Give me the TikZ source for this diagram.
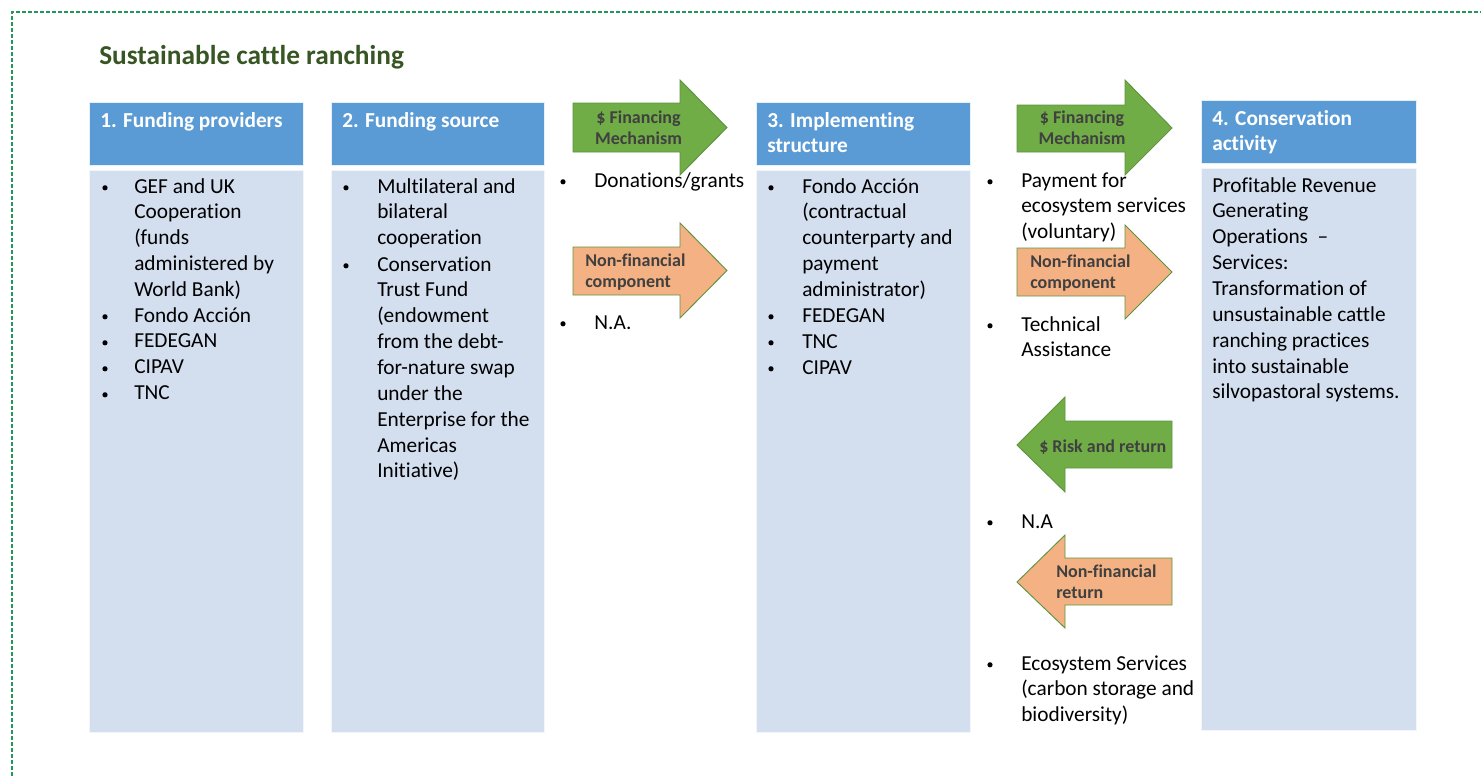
\documentclass[tikz,border=0pt]{standalone}
\usepackage{fontspec}
\setmainfont{Carlito}[Ligatures=NoCommon]

\definecolor{headblue}{HTML}{5B9BD5}
\definecolor{bodyblue}{HTML}{D3DEEF}
\definecolor{titlegreen}{HTML}{375623}
\definecolor{arrowgreen}{HTML}{70AD47}
\definecolor{arroworange}{HTML}{F4B183}
\definecolor{arrowline}{HTML}{5E9440}
\definecolor{framegreen}{HTML}{1F9A5A}
\definecolor{arrowtext}{HTML}{404040}

\newcommand{\leftlines}[1]{\begin{tabular}[t]{@{}l@{}}#1\end{tabular}}
\newcommand{\midlines}[1]{\begin{tabular}[t]{@{}c@{}}#1\end{tabular}}

\tikzset{
  headbox/.style={fill=headblue,draw=white!85!headblue,line width=0.6pt},
  bodybox/.style={fill=bodyblue,draw=white!70!bodyblue,line width=0.6pt},
  plaintext/.style={font=\fontsize{16}{19.4}\selectfont,inner sep=0,anchor=base west},
  headtext/.style={plaintext,text=white,font=\fontsize{16}{19.4}\selectfont\bfseries},
  dot/.style={circle,fill=black,inner sep=0,minimum size=3.9pt,yshift=3.9pt},
  arrowlabel/.style={font=\fontsize{13.5}{15.75}\selectfont\bfseries,text=arrowtext,inner sep=0,anchor=base west},
  finarrow/.style={fill=arrowgreen,draw=arrowline,line width=0.7pt},
  nonfinarrow/.style={fill=arroworange,draw=arrowline,line width=0.7pt}
}

\begin{document}
\begin{tikzpicture}[x=0.75pt,y=-0.75pt]
  \useasboundingbox (0,0) rectangle (1481,776);
  \draw[framegreen,line width=0.8pt,dash pattern=on 3pt off 1.5pt] (12,776) -- (12,12) -- (1481,12);

  \node[plaintext,text=titlegreen,font=\fontsize{20.5}{24}\selectfont\bfseries] (title) at (99,64) {Sustainable cattle ranching};

  % column boxes
  \draw[headbox] (89,102) rectangle (303,165);
  \draw[bodybox] (89,170) rectangle (303,732);
  \draw[headbox] (331,102) rectangle (544,165);
  \draw[bodybox] (331,170) rectangle (544,732);
  \draw[headbox] (756,102) rectangle (970,165);
  \draw[bodybox] (756,170) rectangle (970,732);
  \draw[headbox] (1201,100) rectangle (1416,163);
  \draw[bodybox] (1201,168) rectangle (1416,730);

  % headers
  \node[headtext] (providers head) at (100,127) {\leftlines{1. Funding providers}};
  \node[headtext] (source head) at (342,127) {\leftlines{2. Funding source}};
  \node[headtext] (structure head) at (767,127) {\leftlines{3. Implementing\\structure}};
  \node[headtext] (activity head) at (1212,125) {\leftlines{4. Conservation\\activity}};

  % 1. funding providers
  \node[dot] (providers dot 1) at (105,193) {};
  \node[plaintext] (providers item 1) at (134,193) {\leftlines{GEF and UK\\Cooperation\\(funds\\administered by\\World Bank)}};
  \node[dot] (providers dot 2) at (105,322) {};
  \node[plaintext] (providers item 2) at (134,322) {\leftlines{Fondo Acción\\FEDEGAN\\CIPAV\\TNC}};
  \node[dot] (providers dot 3) at (105,348) {};
  \node[dot] (providers dot 4) at (105,374) {};
  \node[dot] (providers dot 5) at (105,400) {};

  % 2. funding source
  \node[dot] (source dot 1) at (346,193) {};
  \node[plaintext] (source item 1) at (377,193) {\leftlines{Multilateral and\\bilateral\\cooperation}};
  \node[dot] (source dot 2) at (346,271) {};
  \node[plaintext] (source item 2) at (377,271) {\leftlines{Conservation\\Trust Fund\\(endowment\\from the debt-\\for-nature swap\\under the\\Enterprise for the\\Americas\\Initiative)}};

  % 3. implementing structure
  \node[dot] (structure dot 1) at (771,193) {};
  \node[plaintext] (structure item 1) at (802,193) {\leftlines{Fondo Acción\\(contractual\\counterparty and\\payment\\administrator)\\FEDEGAN\\TNC\\CIPAV}};
  \node[dot] (structure dot 2) at (771,322) {};
  \node[dot] (structure dot 3) at (771,348) {};
  \node[dot] (structure dot 4) at (771,374) {};

  % 4. conservation activity
  \node[plaintext] (activity text) at (1212,192) {\leftlines{Profitable Revenue\\Generating\\Operations~~--\\Services:\\Transformation of\\unsustainable cattle\\ranching practices\\into sustainable\\silvopastoral systems.}};

  % arrows between 2 and 3
  \draw[finarrow] (573,103) -- (680,103) -- (680,80) -- (727,127.5) -- (680,175) -- (680,152) -- (573,152) -- cycle;
  \node[arrowlabel,anchor=base] (fin label 1) at (638.5,123) {\midlines{\$ Financing\\Mechanism}};
  \node[dot] (grants dot) at (563,187) {};
  \node[plaintext] (grants) at (594,187) {Donations/grants};
  \draw[nonfinarrow] (573,247) -- (680,247) -- (680,223) -- (727,270.5) -- (680,318) -- (680,295) -- (573,295) -- cycle;
  \node[arrowlabel] (nonfin label 1) at (585,266) {\leftlines{Non-financial\\component}};
  \node[dot] (na dot 1) at (563,329) {};
  \node[plaintext] (na 1) at (594,329) {N.A.};

  % arrows between 3 and 4
  \draw[finarrow] (1017,105) -- (1125,105) -- (1125,80) -- (1172,128) -- (1125,175) -- (1125,152) -- (1017,152) -- cycle;
  \node[arrowlabel,anchor=base] (fin label 2) at (1082,123) {\midlines{\$ Financing\\Mechanism}};
  \node[dot] (payment dot) at (990,187) {};
  \node[plaintext] (payment) at (1021,187) {\leftlines{Payment for\\ecosystem services\\(voluntary)}};
  \draw[nonfinarrow] (1017,248) -- (1125,248) -- (1125,225) -- (1172,272) -- (1125,319) -- (1125,296) -- (1017,296) -- cycle;
  \node[arrowlabel] (nonfin label 2) at (1030,267) {\leftlines{Non-financial\\component}};
  \node[dot] (assist dot) at (990,331) {};
  \node[plaintext] (assist) at (1021,331) {\leftlines{Technical\\Assistance}};

  % return arrows
  \draw[finarrow] (1017,445) -- (1065,397) -- (1065,421) -- (1172,421) -- (1172,468) -- (1065,468) -- (1065,492) -- cycle;
  \node[arrowlabel] (risk label) at (1039,452) {\$ Risk and return};
  \node[dot] (na dot 2) at (990,528) {};
  \node[plaintext] (na 2) at (1021,528) {N.A};
  \draw[nonfinarrow] (1017,582) -- (1065,535) -- (1065,558) -- (1172,558) -- (1172,605) -- (1065,605) -- (1065,628) -- cycle;
  \node[arrowlabel] (nonfin return) at (1056,577) {\leftlines{Non-financial\\return}};
  \node[dot] (eco dot) at (990,670) {};
  \node[plaintext] (eco) at (1021,670) {\leftlines{Ecosystem Services\\(carbon storage and\\biodiversity)}};
\end{tikzpicture}
\end{document}
